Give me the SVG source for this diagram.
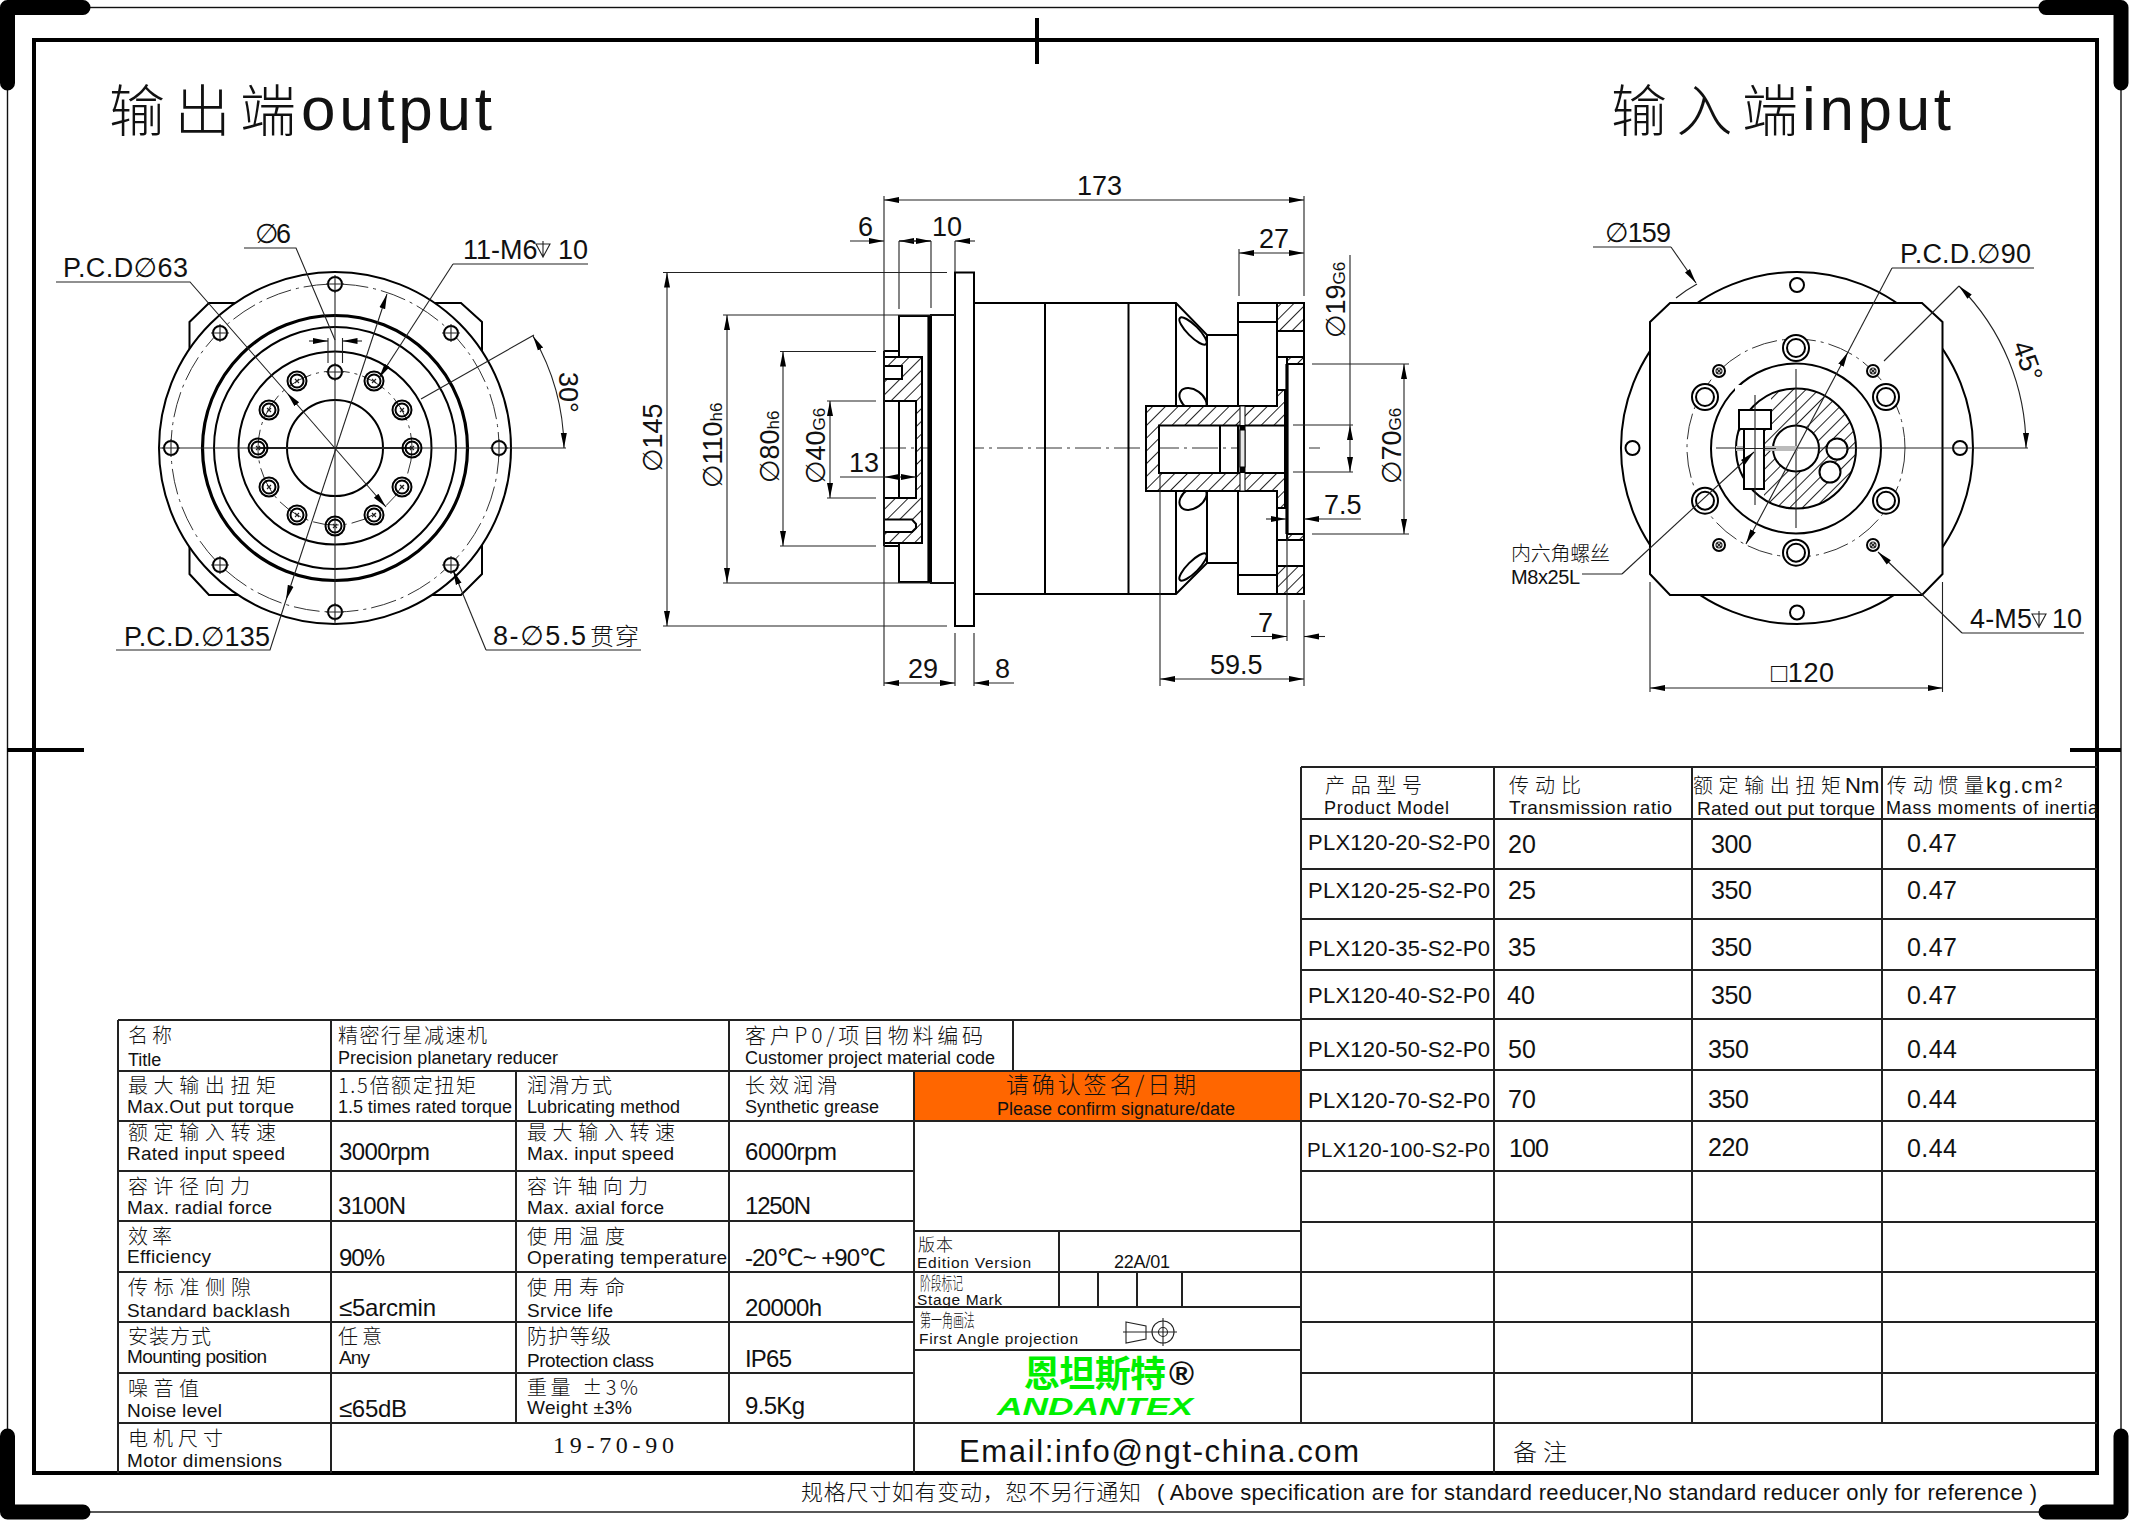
<svg xmlns="http://www.w3.org/2000/svg" width="2129" height="1520" viewBox="0 0 2129 1520">
<style>
text{font-family:"Liberation Sans","DejaVu Sans","Noto Sans CJK SC",sans-serif;fill:#111}
.cn{font-family:"Noto Sans CJK SC",sans-serif;font-size:20px;font-weight:300}
.en{font-size:19px}
.e2{font-size:18px}
.val{font-size:24px}
.tb{font-size:22px}
.num{font-size:25px}
.dim{font-size:27px}
.sm{font-size:17px}
.di{font-family:"DejaVu Sans",sans-serif;font-weight:200;font-style:italic}
.o{fill:none;stroke:#000;stroke-width:2}
.w{fill:#fff;stroke:#000;stroke-width:2}
.th{fill:none;stroke:#000;stroke-width:3.2}
.t{fill:none;stroke:#222;stroke-width:1.1}
.c{fill:none;stroke:#333;stroke-width:1;stroke-dasharray:26 5 3 5}
.g{fill:none;stroke:#222;stroke-width:2}
.h{fill:url(#hatch);stroke:#000;stroke-width:2}
.de{marker-end:url(#a)}
.dd{marker-start:url(#a);marker-end:url(#a)}
</style>
<defs>
<marker id="a" markerUnits="userSpaceOnUse" markerWidth="16" markerHeight="8" refX="15" refY="4" orient="auto-start-reverse"><path d="M0,1 L15,4 L0,7z" fill="#000"/></marker>
<pattern id="hatch" patternUnits="userSpaceOnUse" width="9" height="9" patternTransform="rotate(-45)"><rect width="9" height="9" fill="#fff"/><line x1="0" y1="4.5" x2="9" y2="4.5" stroke="#222" stroke-width="1"/></pattern>
<g id="h1"><circle r="9.5" class="o" fill="#fff"/><circle r="6.5" class="o"/><path d="M-2,-2L2,2M-2,2L2,-2" class="t"/></g>
<g id="h2"><circle r="7" class="w"/><path d="M-9,0H9M0,-9V9" class="t"/></g>
<g id="h3"><circle r="13" class="w"/><circle r="9" class="o"/></g>
<g id="h4"><circle r="6" class="w"/><circle r="3" class="t"/><path d="M-2,-2L2,2M-2,2L2,-2" class="t"/></g>
<g id="dp"><path d="M-7,-14H7L0,-1zM0,-17V0" class="t" stroke="#666"/></g>
</defs>
<rect width="2129" height="1520" fill="#fff"/>

<g id="frame">
<rect x="7.5" y="7.5" width="2113.5" height="1504.5" fill="none" stroke="#111" stroke-width="1.4"/>
<path d="M7.5,83V7.5H83M2046,7.5H2121V83M7.5,1436V1512H83M2046,1512H2121V1436" fill="none" stroke="#000" stroke-width="15" stroke-linecap="round" stroke-linejoin="round"/>
<rect x="34" y="40" width="2063" height="1433" fill="none" stroke="#000" stroke-width="4"/>
<path d="M1037,18V64M7,750H84M2070,750H2121" fill="none" stroke="#000" stroke-width="4"/>
<text x="109" y="131" class="cn" style="font-size:56px" textLength="187">输出端</text>
<text x="301" y="130" style="font-size:62px" textLength="191">output</text>
<text x="1611" y="131" class="cn" style="font-size:56px" textLength="187">输入端</text>
<text x="1802" y="130" style="font-size:62px" textLength="149">input</text>
</g>

<g id="view-output">
<path class="o" d="M209,303H461L482,322V574L461,595H209L189.5,574V322z"/>
<circle cx="335" cy="448" r="176" class="w"/>
<circle cx="335" cy="448" r="164" class="c"/>
<circle cx="335" cy="448" r="132.500" class="th"/>
<circle cx="335" cy="448" r="121" class="o"/>
<circle cx="335" cy="448" r="96.500" class="o"/>
<circle cx="335" cy="448" r="48" class="o"/>
<circle cx="335" cy="448" r="77" class="c"/>
<path class="t" d="M159,448H566M335,280V625"/>
<path class="g" d="M258,448H412"/>
<use href="#h2" x="335" y="284"/><use href="#h2" x="335" y="612"/><use href="#h2" x="171" y="448"/><use href="#h2" x="499" y="448"/>
<use href="#h2" x="220" y="333"/><use href="#h2" x="451" y="333"/><use href="#h2" x="220" y="565"/><use href="#h2" x="451" y="565"/>
<use href="#h2" x="335" y="372"/>
<use href="#h1" x="335" y="526"/><use href="#h1" x="258" y="448"/><use href="#h1" x="412" y="448"/>
<use href="#h1" x="297" y="381"/><use href="#h1" x="374" y="381"/><use href="#h1" x="297" y="515"/><use href="#h1" x="374" y="515"/>
<use href="#h1" x="269" y="410"/><use href="#h1" x="402" y="410"/><use href="#h1" x="269" y="487"/><use href="#h1" x="402" y="487"/>
<path class="t" d="M328,338V363M342.500,338V363"/>
<path class="t de" d="M309,341H328"/><path class="t de" d="M362,341H342.500"/>
<path class="t" d="M244,248H296L335,340"/>
<path class="t" d="M56,282H190L287,393"/><path class="t dd" d="M287,393L386,507" />
<path class="t" d="M453,264H588"/><path class="t de" d="M453,264L379,378"/>
<path class="t" d="M116,650H270L286,600"/><path class="t dd" d="M286,600L387,294"/>
<path class="t" d="M486,650H641"/><path class="t de" d="M486,650L453,570"/>
<path class="t" d="M421,399L534,335"/><path class="t dd" d="M533,336A229,229 0 0 1 564,448"/>
<text x="255" y="243" class="dim" textLength="36"><tspan class="di">∅</tspan>6</text>
<text x="63" y="277" class="dim" textLength="125">P.C.D<tspan class="di">∅</tspan>63</text>
<text x="463" y="259" class="dim">11-M6</text><use href="#dp" x="543" y="258"/><text x="558" y="259" class="dim">10</text>
<text x="124" y="646" class="dim" textLength="146">P.C.D.<tspan class="di">∅</tspan>135</text>
<text x="493" y="645" class="dim" textLength="93">8-<tspan class="di">∅</tspan>5.5</text>
<text x="590" y="645" class="cn" style="font-size:24px" textLength="49">贯穿</text>
<text transform="translate(559,372) rotate(90)" class="dim">30°</text>
</g>

<g id="view-side">
<path class="c" d="M880,448H1320"/>
<rect x="955" y="272.500" width="19" height="353.500" class="w"/>
<rect x="931" y="315" width="24" height="268" class="w"/>
<rect x="899" y="316" width="30" height="266" class="o"/>
<path class="th" d="M929,316V582"/>
<path class="o" d="M884,351H899M884,546H899"/>
<path class="h" d="M884,357H922V543H884V498H916V401H884z"/>
<path class="w" d="M884,366H902V379H884zM884,519.500H912L916,524V528L912,532H884z"/>
<path class="o" d="M884,351V546"/>
<ellipse cx="1193" cy="331" rx="18.500" ry="5.500" class="o" transform="rotate(45 1193 331)"/>
<ellipse cx="1193" cy="567" rx="18.500" ry="5.500" class="o" transform="rotate(-45 1193 567)"/>
<ellipse cx="1193" cy="400" rx="15" ry="10" class="o" transform="rotate(35 1193 400)"/>
<ellipse cx="1193" cy="498" rx="15" ry="10" class="o" transform="rotate(-35 1193 498)"/>
<path class="o" d="M974,303H1176L1207,335H1238M974,594H1176L1207,563H1238M1045,303V594M1128.500,303V594M1176,303V406M1176,491V594M1207,335V406M1207,491V563"/>
<rect x="1238" y="303" width="66" height="291" class="w"/>
<path class="o" d="M1238,322H1277M1238,575H1277M1277,303V358M1277,539V594M1277,331H1304M1277,357H1287M1277,540H1287M1277,566H1304M1277,390V358M1277,508V539"/>
<path class="h" d="M1277,303H1304V331H1277z"/>
<path class="h" d="M1277,566H1304V594H1277z"/>
<path class="h" d="M1287,357H1304V364H1287z"/>
<path class="h" d="M1287,534H1304V540H1287z"/>
<path class="h" d="M1146,406H1277V390H1285V425.500H1159V473H1285V508H1277V491H1146z"/>
<path class="o" d="M1220,425V473"/>
<rect x="1240" y="406" width="5" height="85" fill="#fff" stroke="#000" stroke-width="1"/>
<rect x="1240" y="430" width="5" height="37" fill="#e8e8e8" stroke="#000" stroke-width="1"/>
<path d="M1240,425h5v5h-5zM1240,467h5v6h-5z" fill="#000"/>
<path class="th" d="M1287,364V534" stroke-width="2.500"/>
<path class="o" d="M1285,425V473"/>
<path class="t" d="M884,196V686M1304,196V296M1304,600V686"/>
<line class="t dd" x1="884" y1="200" x2="1304" y2="200"/>
<text x="1077" y="195" class="dim">173</text>
<text x="858" y="236" class="dim">6</text><text x="932" y="236" class="dim">10</text>
<path class="t" d="M899,241V309M931,241V308M955,241V272"/>
<path class="t de" d="M850,241H884"/><path class="t de" d="M931,241H899"/><path class="t de" d="M899,241H931"/><path class="t de" d="M975,241H955"/>
<text x="1259" y="248" class="dim">27</text>
<path class="t" d="M1239,249V296"/><line class="t dd" x1="1239" y1="253" x2="1304" y2="253"/>
<text transform="translate(1345,338) rotate(-90)" class="dim"><tspan class="di">∅</tspan>19<tspan class="sm">G6</tspan></text>
<path class="t" d="M1350,255V425M1293,425H1353M1293,472H1353"/><line class="t dd" x1="1350" y1="425" x2="1350" y2="472"/>
<text transform="translate(1401,484) rotate(-90)" class="dim"><tspan class="di">∅</tspan>70<tspan class="sm">G6</tspan></text>
<path class="t" d="M1312,364H1409M1312,534H1409"/><line class="t dd" x1="1404" y1="364" x2="1404" y2="534"/>
<text x="1324" y="514" class="dim">7.5</text>
<path class="t de" d="M1266,519H1286"/><path class="t de" d="M1361,519H1304"/>
<text x="1258" y="632" class="dim">7</text>
<path class="t" d="M1287,534V641"/>
<path class="t de" d="M1251,636.500H1287"/><path class="t de" d="M1325,636.500H1304"/>
<text x="1210" y="674" class="dim">59.5</text>
<path class="t" d="M1160,473V686"/><line class="t dd" x1="1160" y1="679" x2="1304" y2="679"/>
<text x="908" y="678" class="dim">29</text><text x="995" y="678" class="dim">8</text>
<path class="t" d="M955,633V686M974,633V686"/>
<line class="t dd" x1="884" y1="683" x2="955" y2="683"/><path class="t de" d="M1014,683H974"/>
<text transform="translate(662,472) rotate(-90)" class="dim"><tspan class="di">∅</tspan>145</text>
<path class="t" d="M663,272.500H947M663,626H947"/><line class="t dd" x1="667" y1="272.500" x2="667" y2="626"/>
<text transform="translate(722,488) rotate(-90)" class="dim"><tspan class="di">∅</tspan>110<tspan class="sm">h6</tspan></text>
<path class="t" d="M723,315H955M723,583H955"/><line class="t dd" x1="727" y1="315" x2="727" y2="583"/>
<text transform="translate(779,483) rotate(-90)" class="dim"><tspan class="di">∅</tspan>80<tspan class="sm">h6</tspan></text>
<path class="t" d="M780,351.500H876M780,546H876"/><line class="t dd" x1="783" y1="351.500" x2="783" y2="546"/>
<text transform="translate(825,484) rotate(-90)" class="dim"><tspan class="di">∅</tspan>40<tspan class="sm">G6</tspan></text>
<path class="t" d="M827,401H876M827,498H876"/><line class="t dd" x1="830" y1="401" x2="830" y2="498"/>
<text x="849" y="472" class="dim">13</text>
<path class="t" d="M840,477H884"/><line class="t dd" x1="884" y1="477" x2="916" y2="477"/>
</g>

<g id="view-input">
<circle cx="1797" cy="448" r="176" class="w"/>
<circle cx="1797" cy="285" r="7" class="o"/><circle cx="1797" cy="612.500" r="7" class="o"/><circle cx="1632.500" cy="448" r="7" class="w"/><circle cx="1960" cy="448" r="7" class="w"/>
<path class="w" d="M1670,303H1922L1942.500,322V574L1922,595H1670L1650,574V322z"/>
<circle cx="1796" cy="448" r="109" class="c"/>
<circle cx="1796" cy="448.500" r="85" class="o"/>
<circle cx="1796" cy="448.500" r="60" fill="url(#hatch)"/>
<path d="M1735,385H1771V410H1735zM1735,435H1744V500H1735zM1744,489H1764V500H1744z" fill="#fff"/>
<circle cx="1796" cy="448.500" r="60" class="o"/>
<circle cx="1796" cy="448.500" r="23" class="w"/>
<circle cx="1837" cy="449" r="10.500" class="w"/><circle cx="1830" cy="472" r="10.500" class="w"/>
<path class="t" d="M1716,448H2028M1796,369V528"/>
<rect x="1736" y="446" width="62" height="5" fill="#bbb"/>
<rect x="1744" y="429" width="20" height="60" class="w"/>
<rect x="1739" y="410" width="32" height="19" class="w"/>
<path class="t" d="M1755,395V505M1736,448.500H1776"/>
<use href="#h3" x="1796" y="348"/><use href="#h3" x="1796" y="552.700"/><use href="#h3" x="1705" y="397"/><use href="#h3" x="1886" y="397"/><use href="#h3" x="1705" y="500.700"/><use href="#h3" x="1886" y="500.700"/>
<use href="#h4" x="1719" y="371"/><use href="#h4" x="1873" y="371"/><use href="#h4" x="1719" y="545"/><use href="#h4" x="1873" y="545"/>
<path class="t" d="M1593,247H1671"/><path class="t de" d="M1671,247L1696,283"/><path class="t" d="M1676,298Q1686,290 1697,284"/>
<path class="t" d="M1892,268H2034"/><path class="t" d="M1892,268L1848,352"/><path class="t dd" d="M1848,352L1746,544"/>
<path class="t" d="M1884,361L1959,286"/><path class="t dd" d="M1959,286A229,229 0 0 1 2026,448"/>
<path class="t" d="M1962,633H2084"/><path class="t de" d="M1962,633L1878,552"/>
<path class="t" d="M1582,574H1622"/><path class="t de" d="M1622,574L1754,452"/>
<path class="t" d="M1650,582V692M1942.500,582V692"/><line class="t dd" x1="1650" y1="688" x2="1942.500" y2="688"/>
<text x="1605" y="242" class="dim" textLength="66"><tspan class="di">∅</tspan>159</text>
<text x="1900" y="263" class="dim" textLength="131">P.C.D.<tspan class="di">∅</tspan>90</text>
<text x="1970" y="628" class="dim" textLength="62">4-M5</text><use href="#dp" x="2039" y="628"/><text x="2052" y="628" class="dim">10</text>
<text x="1511" y="561" class="cn" textLength="99">内六角螺丝</text>
<text x="1511" y="584" style="font-size:20px" textLength="69">M8x25L</text>
<text x="1771" y="682" class="dim" textLength="63">□120</text>
<text transform="translate(2012,345) rotate(70)" class="dim">45°</text>
</g>

<g id="spec-table">
<rect x="914" y="1071" width="387" height="50" fill="#f60"/>
<path class="g" d="M118,1020H1301M118,1071H1301M118,1121H1301M118,1171H914M118,1221H914M118,1272H1301M118,1322H914M118,1373H914M118,1423H2097M118,1020V1473M331,1020V1473M516,1071V1423M729,1020V1423M914,1071V1473M1013,1020V1071M1301,767V1423"/>
<path class="g" d="M914,1231H1301M914,1307H1301M914,1350H1301M1059,1231V1307M1098,1272V1307M1137,1272V1307M1182,1272V1307"/>
<text x="128" y="1043" class="cn" textLength="44">名称</text><text x="128" y="1066" class="e2">Title</text>
<text x="338" y="1043" class="cn" textLength="149">精密行星减速机</text><text x="338" y="1064" class="e2" textLength="220">Precision planetary reducer</text>
<text x="745" y="1043" class="cn" style="font-size:21px" textLength="238">客户P0/项目物料编码</text><text x="745" y="1064" class="e2" textLength="250">Customer project material code</text>
<text x="128" y="1093" class="cn" textLength="148">最大输出扭矩</text><text x="127" y="1113" class="en" textLength="167">Max.Out put torque</text>
<text x="338" y="1093" class="cn" textLength="138">1.5倍额定扭矩</text><text x="338" y="1113" class="e2" textLength="174">1.5 times rated torque</text>
<text x="527" y="1093" class="cn" textLength="85">润滑方式</text><text x="527" y="1113" class="e2" textLength="153">Lubricating method</text>
<text x="745" y="1093" class="cn" textLength="92">长效润滑</text><text x="745" y="1113" class="e2" textLength="134">Synthetic grease</text>
<text x="128" y="1140" class="cn" textLength="148">额定输入转速</text><text x="127" y="1160" class="en" textLength="158">Rated input speed</text>
<text x="339" y="1160" class="val" textLength="91">3000rpm</text>
<text x="527" y="1140" class="cn" textLength="148">最大输入转速</text><text x="527" y="1160" class="en" textLength="147">Max. input speed</text>
<text x="745" y="1160" class="val" textLength="92">6000rpm</text>
<text x="128" y="1194" class="cn" textLength="122">容许径向力</text><text x="127" y="1214" class="en" textLength="145">Max. radial force</text>
<text x="338" y="1214" class="val" textLength="68">3100N</text>
<text x="527" y="1194" class="cn" textLength="121">容许轴向力</text><text x="527" y="1214" class="en" textLength="137">Max. axial force</text>
<text x="745" y="1214" class="val" textLength="66">1250N</text>
<text x="128" y="1244" class="cn" textLength="44">效率</text><text x="127" y="1263" class="en" textLength="84">Efficiency</text>
<text x="339" y="1266" class="val" textLength="46">90%</text>
<text x="527" y="1244" class="cn" textLength="98">使用温度</text><text x="527" y="1264" class="en" textLength="200">Operating temperature</text>
<text x="745" y="1266" class="val" textLength="141">-20℃~ +90℃</text>
<text x="128" y="1295" class="cn" textLength="123">传标准侧隙</text><text x="127" y="1317" class="en" textLength="163">Standard backlash</text>
<text x="339" y="1316" class="val" textLength="97">≤5arcmin</text>
<text x="527" y="1295" class="cn" textLength="98">使用寿命</text><text x="527" y="1317" class="en" textLength="86">Srvice life</text>
<text x="745" y="1316" class="val" textLength="77">20000h</text>
<text x="128" y="1344" class="cn" textLength="83">安装方式</text><text x="127" y="1363" class="en" textLength="140">Mounting position</text>
<text x="338" y="1344" class="cn" textLength="44">任意</text><text x="339" y="1364" class="en" textLength="31">Any</text>
<text x="527" y="1344" class="cn" textLength="84">防护等级</text><text x="527" y="1367" class="en" textLength="127">Protection class</text>
<text x="745" y="1367" class="val" textLength="47">IP65</text>
<text x="128" y="1396" class="cn" textLength="71">噪音值</text><text x="127" y="1417" class="en" textLength="95">Noise level</text>
<text x="339" y="1417" class="val" textLength="68">≤65dB</text>
<text x="527" y="1395" class="cn" textLength="111">重量 ±3%</text><text x="527" y="1414" class="en" textLength="105">Weight ±3%</text>
<text x="745" y="1414" class="val" textLength="60">9.5Kg</text>
<text x="128" y="1446" class="cn" textLength="95">电机尺寸</text><text x="127" y="1467" class="en" textLength="155">Motor dimensions</text>
<text x="553" y="1453" style="font-family:'Liberation Serif',serif;font-size:24px" textLength="121">19-70-90</text>
<text x="1006" y="1093" class="cn" style="font-size:23px" textLength="190">请确认签名/日期</text>
<text x="997" y="1115" class="e2" textLength="238">Please confirm signature/date</text>
<text x="918" y="1251" class="cn" style="font-size:17px" textLength="35">版本</text><text x="917" y="1268" style="font-size:15.500px" textLength="114">Edition Version</text>
<text x="1114" y="1268" class="e2" textLength="56">22A/01</text>
<text transform="translate(920,1290) scale(.6,1)" class="cn" style="font-size:18px">阶段标记</text><text x="917" y="1305" style="font-size:15.500px" textLength="85">Stage Mark</text>
<text transform="translate(920,1327) scale(.61,1)" class="cn" style="font-size:18px">第一角画法</text><text x="919" y="1344" style="font-size:15.500px" textLength="159">First Angle projection</text>
<path class="t" d="M1126,1322L1146,1326V1339L1126,1343zM1123,1332H1149M1163,1318V1346M1149,1332H1177"/>
<circle cx="1163" cy="1332" r="11" class="t"/><circle cx="1163" cy="1332" r="4.500" class="t"/>
<text x="1024" y="1387" style="font-family:'Noto Sans CJK SC',sans-serif;font-weight:700;font-size:36px;fill:#00f000" textLength="142">恩坦斯特</text>
<text x="1169" y="1385" style="font-weight:700;font-size:34px">®</text>
<text x="997" y="1415" style="font-weight:700;font-style:italic;font-size:24px;fill:#00f000" textLength="196" lengthAdjust="spacingAndGlyphs">ANDANTEX</text>
<text x="959" y="1462" style="font-size:31px" textLength="400">Email:info@ngt-china.com</text>
<text x="801" y="1500" class="cn" style="font-size:22px" textLength="340">规格尺寸如有变动，恕不另行通知</text>
<text x="1157" y="1500" style="font-size:22px" textLength="880">( Above specification are for standard reeducer,No standard reducer only for reference )</text>
</g>

<g id="model-table">
<path class="g" d="M1301,767H2097M1301,819H2097M1301,869H2097M1301,919H2097M1301,970H2097M1301,1019H2097M1301,1070H2097M1301,1121H2097M1301,1171H2097M1301,1222H2097M1301,1272H2097M1301,1322H2097M1301,1373H2097M1494,767V1473M1692,767V1423M1882,767V1423"/>
<text x="1325" y="793" class="cn" textLength="97">产品型号</text><text x="1324" y="814" class="e2" textLength="125">Product Model</text>
<text x="1509" y="793" class="cn" textLength="72">传动比</text><text x="1509" y="814" class="en" textLength="163">Transmission ratio</text>
<text x="1693" y="793" class="cn" textLength="148">额定输出扭矩</text><text x="1845" y="793" style="font-size:22px">Nm</text><text x="1697" y="815" class="en" textLength="178">Rated out put torque</text>
<text x="1887" y="793" class="cn" textLength="97">传动惯量</text><text x="1986" y="793" style="font-size:22px" textLength="76">kg.cm²</text><text x="1886" y="814" class="e2" textLength="212">Mass moments of inertia</text>
<text x="1308" y="850" class="tb" textLength="182">PLX120-20-S2-P0</text><text x="1308" y="898" class="tb" textLength="182">PLX120-25-S2-P0</text><text x="1308" y="956" class="tb" textLength="182">PLX120-35-S2-P0</text><text x="1308" y="1003" class="tb" textLength="182">PLX120-40-S2-P0</text><text x="1308" y="1057" class="tb" textLength="182">PLX120-50-S2-P0</text><text x="1308" y="1108" class="tb" textLength="182">PLX120-70-S2-P0</text><text x="1307" y="1157" class="tb" style="font-size:20.500px" textLength="183">PLX120-100-S2-P0</text>
<text x="1508" y="853" class="num" textLength="28">20</text><text x="1711" y="853" class="num" textLength="41">300</text><text x="1907" y="852" class="num" textLength="50">0.47</text>
<text x="1508" y="899" class="num" textLength="28">25</text><text x="1711" y="899" class="num" textLength="41">350</text><text x="1907" y="899" class="num" textLength="50">0.47</text>
<text x="1508" y="956" class="num" textLength="28">35</text><text x="1711" y="956" class="num" textLength="41">350</text><text x="1907" y="956" class="num" textLength="50">0.47</text>
<text x="1507" y="1004" class="num" textLength="28">40</text><text x="1711" y="1004" class="num" textLength="41">350</text><text x="1907" y="1004" class="num" textLength="50">0.47</text>
<text x="1508" y="1058" class="num" textLength="28">50</text><text x="1708" y="1058" class="num" textLength="41">350</text><text x="1907" y="1058" class="num" textLength="50">0.44</text>
<text x="1508" y="1108" class="num" textLength="28">70</text><text x="1708" y="1108" class="num" textLength="41">350</text><text x="1907" y="1108" class="num" textLength="50">0.44</text>
<text x="1509" y="1157" class="num" textLength="40">100</text><text x="1708" y="1156" class="num" textLength="41">220</text><text x="1907" y="1157" class="num" textLength="50">0.44</text>
<text x="1513" y="1461" class="cn" style="font-size:24px" textLength="54">备注</text>
</g>
</svg>
